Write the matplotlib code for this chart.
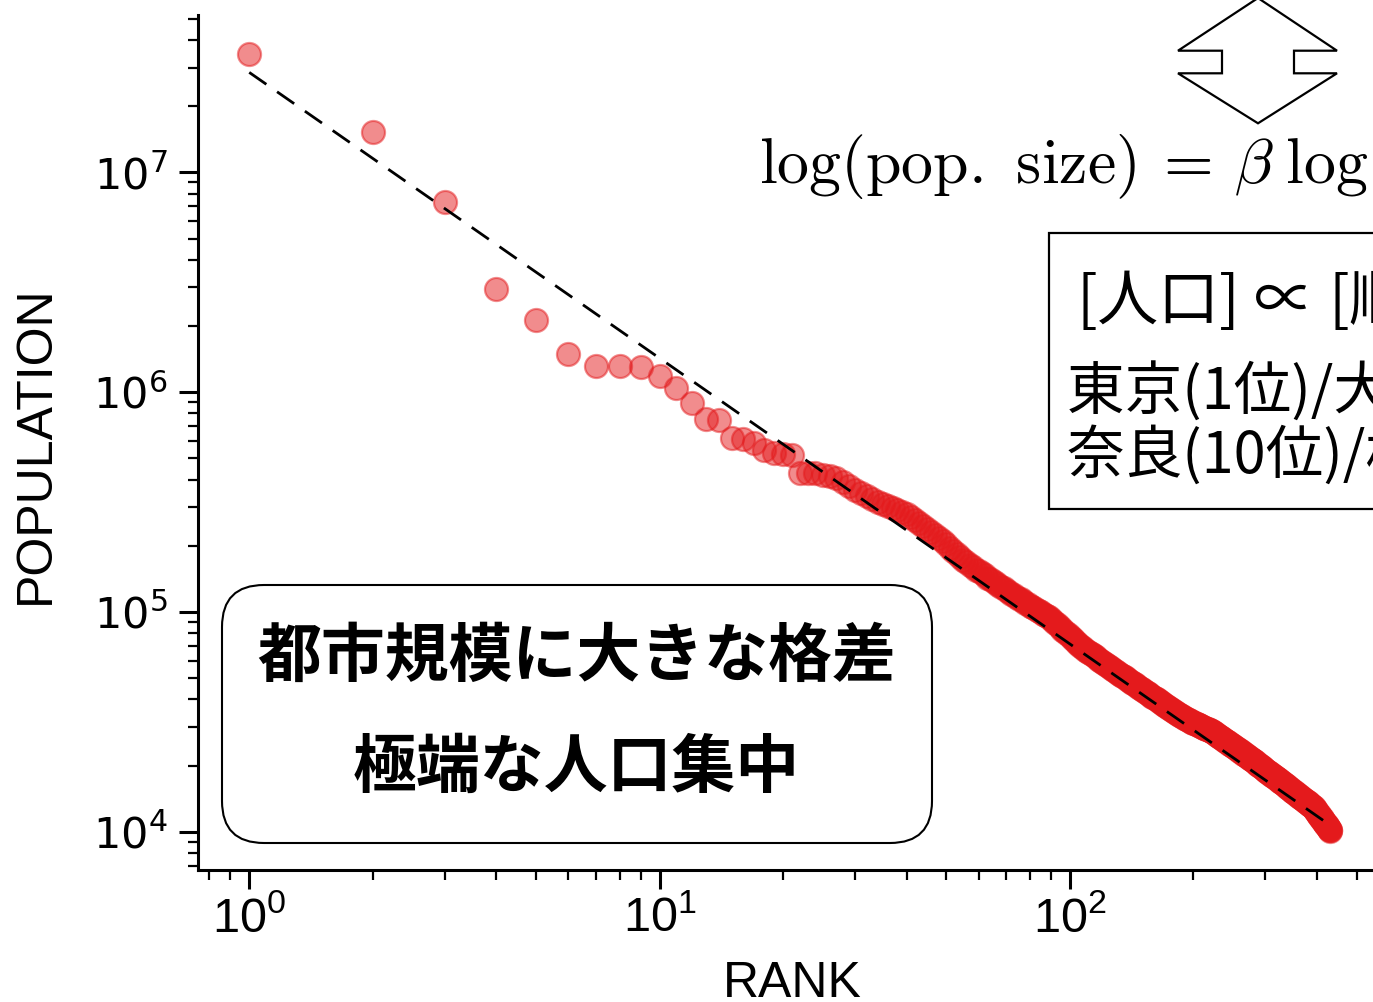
import numpy as np
import matplotlib
matplotlib.use("Agg")
import matplotlib.pyplot as plt
from matplotlib.patches import FancyBboxPatch, Rectangle, Polygon

# population by rank, in thousands (ranks 1-21 spread out, 22+ dense tail)
POP_TOP_K = [34700, 15200, 7310, 2940, 2120, 1490, 1320, 1310, 1300, 1190,
             1040, 891, 754, 748, 618, 610, 586, 545, 528, 526, 517]
POP_TAIL_K = [
    429, 431, 430, 422, 414, 407, 389, 373, 358, 346, 336, 326, 317, 309, 302, 296, 290, 285, 279, 271,
    262, 255, 247, 239, 232, 225, 218, 211, 203, 196, 189, 183, 177, 172, 168, 164, 160, 156, 153, 150,
    147, 143, 141, 138, 135, 133, 130, 128, 126, 123, 121, 119, 117, 115, 114, 112, 110, 109, 107, 105,
    104, 102, 101, 99.6, 98.2, 96.9, 95.6, 94.4, 92.8, 91.1, 89.4, 87.8, 86.2, 84.7, 83.2, 81.8, 80.3, 79, 77.6, 76.3,
    75.1, 73.8, 72.6, 71.5, 70.3, 69.2, 68.3, 67.4, 66.6, 65.8, 65.1, 64.3, 63.6, 62.8, 62.1, 61.4, 60.7, 60.1, 59.4, 58.8,
    58.1, 57.5, 56.9, 56.3, 55.7, 55.1, 54.6, 54, 53.5, 52.9, 52.4, 51.9, 51.4, 50.9, 50.4, 50, 49.5, 49, 48.6, 48.1,
    47.7, 47.3, 46.8, 46.4, 46, 45.6, 45.2, 44.8, 44.4, 44, 43.6, 43.3, 42.9, 42.6, 42.2, 41.9, 41.5, 41.2, 40.9, 40.6,
    40.3, 40, 39.6, 39.3, 39.1, 38.8, 38.5, 38.2, 37.9, 37.6, 37.4, 37.1, 36.8, 36.6, 36.3, 36.1, 35.8, 35.6, 35.3, 35.1,
    34.8, 34.6, 34.4, 34.1, 33.9, 33.7, 33.5, 33.3, 33.1, 32.9, 32.7, 32.5, 32.3, 32.2, 32, 31.8, 31.7, 31.6, 31.4, 31.3,
    31.1, 31, 30.9, 30.7, 30.6, 30.5, 30.3, 30.2, 30.1, 29.9, 29.8, 29.7, 29.6, 29.5, 29.3, 29.2, 29.1, 29, 28.9, 28.7,
    28.6, 28.5, 28.4, 28.2, 28, 27.9, 27.7, 27.5, 27.4, 27.2, 27.1, 26.9, 26.8, 26.6, 26.5, 26.3, 26.2, 26, 25.9, 25.8,
    25.6, 25.5, 25.3, 25.2, 25.1, 24.9, 24.8, 24.7, 24.5, 24.4, 24.3, 24.2, 24, 23.9, 23.8, 23.7, 23.5, 23.4, 23.3, 23.2,
    23.1, 23, 22.8, 22.7, 22.6, 22.5, 22.4, 22.3, 22.2, 22.1, 21.9, 21.8, 21.7, 21.6, 21.5, 21.4, 21.3, 21.2, 21.1, 21,
    20.9, 20.8, 20.7, 20.5, 20.4, 20.3, 20.2, 20.1, 20.1, 20, 19.9, 19.8, 19.7, 19.6, 19.5, 19.4, 19.3, 19.2, 19.1, 19,
    18.9, 18.8, 18.8, 18.7, 18.6, 18.5, 18.4, 18.3, 18.2, 18.2, 18.1, 18, 17.9, 17.8, 17.8, 17.7, 17.6, 17.5, 17.4, 17.4,
    17.3, 17.2, 17.1, 17.1, 17, 16.9, 16.8, 16.8, 16.7, 16.6, 16.5, 16.5, 16.4, 16.3, 16.3, 16.2, 16.1, 16, 16, 15.9,
    15.8, 15.8, 15.7, 15.6, 15.6, 15.5, 15.4, 15.4, 15.3, 15.2, 15.2, 15.1, 15.1, 15, 14.9, 14.9, 14.8, 14.8, 14.7, 14.6,
    14.6, 14.5, 14.5, 14.4, 14.3, 14.3, 14.2, 14.2, 14.1, 14.1, 14, 13.9, 13.9, 13.8, 13.8, 13.7, 13.7, 13.6, 13.6, 13.5,
    13.5, 13.4, 13.4, 13.3, 13.3, 13.2, 13.2, 13.1, 13.1, 13, 12.9, 12.9, 12.8, 12.7, 12.6, 12.5, 12.5, 12.4, 12.3, 12.2,
    12.1, 12.1, 12, 11.9, 11.8, 11.8, 11.7, 11.6, 11.5, 11.5, 11.4, 11.3, 11.3, 11.2, 11.1, 11.1, 11, 10.9, 10.9, 10.8,
    10.7, 10.7, 10.6, 10.5, 10.5, 10.4, 10.3, 10.3, 10.2, 10.2, 10.1,
]

# power-law fit: pop = FIT_C * rank ** FIT_BETA
FIT_C = 2.85e7
FIT_BETA = -1.30

X_TICKS = [1, 10, 100]
X_TICK_LABELS = [r"$\mathregular{10^{0}}$", r"$\mathregular{10^{1}}$", r"$\mathregular{10^{2}}$"]
Y_TICKS = [1e4, 1e5, 1e6, 1e7]

EQUATION = r"$\log(\mathrm{pop.\ size})\:=\,\beta\;\log(\mathrm{rank}) + \alpha$"
ZIPF_LINES = ["[人口] ∝ [順位]$^{\\beta}$", "東京(1位)/大阪(2位) ≈ 2", "奈良(10位)/松山(20位) ≈ 2"]
MESSAGE_LINES = ["都市規模に大きな格差", "極端な人口集中"]

RED = "#e41a1c"
JP = ["Noto Sans CJK JP", "DejaVu Sans"]
LAB = ["Liberation Sans", "DejaVu Sans"]

pop = np.array(POP_TOP_K + POP_TAIL_K) * 1000
rank = np.arange(1, len(pop) + 1)

W, H = 13.73, 10.02
fig = plt.figure(figsize=(W, H), dpi=100)
ax = fig.add_axes([198 / 1373, 132 / 1002, 1188 / 1373, 855 / 1002])

ax.scatter(rank, pop, s=275, color=RED, alpha=0.5, linewidths=1.6, zorder=2)
fit_x = np.array([rank[0], rank[-1]])
ax.plot(fit_x, FIT_C * fit_x ** FIT_BETA, color="black", lw=2,
        ls=(0, (7.5, 4.7)), zorder=3)

ax.set_xscale("log")
ax.set_yscale("log")
ax.set_xlim(0.75, 590)
ax.set_ylim(6700, 5.2e7)
ax.set_yticks(Y_TICKS)
ax.set_xticks(X_TICKS, X_TICK_LABELS, fontfamily=LAB, fontsize=35)

for s in ["top", "right"]:
    ax.spines[s].set_visible(False)
for s in ["left", "bottom"]:
    ax.spines[s].set_linewidth(2.2)

ax.tick_params(axis="both", which="major", length=14, width=2.2)
ax.tick_params(axis="both", which="minor", length=7.5, width=1.6)
ax.tick_params(axis="y", which="major", labelsize=31, pad=8)
ax.tick_params(axis="x", which="major", pad=5)

ax.set_xlabel("RANK", fontfamily=LAB, fontsize=36)
ax.set_ylabel("POPULATION", fontfamily=LAB, fontsize=36)
ax.xaxis.set_label_coords(0.5, -0.106)
ax.yaxis.set_label_coords(-0.117, 0.497)

# message box, lower left
tr = fig.dpi_scale_trans
fig.patches.append(FancyBboxPatch((2.22, 1.59), 7.10, 2.58,
                                  boxstyle="round,pad=0,rounding_size=0.42",
                                  transform=tr, facecolor="white",
                                  edgecolor="black", lw=1.5, zorder=4))
fig.text(5.77 / W, (1002 - 657) / 1002, MESSAGE_LINES[0], family=JP, fontweight="bold",
         fontsize=46, ha="center", va="center", zorder=5)
fig.text(5.76 / W, (1002 - 768) / 1002, MESSAGE_LINES[1], family=JP, fontweight="bold",
         fontsize=46, ha="center", va="center", zorder=5)

# rank-size relation in log form
fig.text(759 / 1373, (1002 - 183) / 1002, EQUATION, fontsize=46,
         math_fontfamily="cm", ha="left", va="baseline")

# outlined double arrow above the equation
arrow_px = [(1258, -2), (1178, 50.7), (1222, 50.7), (1222, 73.3), (1178, 73.3),
            (1258, 123.3), (1337, 73.3), (1294, 73.3), (1294, 50.7), (1337, 50.7)]
fig.patches.append(Polygon([(x / 100, (1002 - y) / 100) for x, y in arrow_px],
                           closed=True, transform=tr, facecolor="white",
                           edgecolor="black", lw=1.6))

# zipf box, right
fig.patches.append(Rectangle((10.49, 4.93), 5.0, 2.76, transform=tr,
                             facecolor="white", edgecolor="black", lw=1.6))
fig.text(1076 / 1373, (1002 - 299) / 1002, ZIPF_LINES[0], family=JP, fontsize=44,
         ha="left", va="center")
fig.text(1067 / 1373, (1002 - 393) / 1002, ZIPF_LINES[1], family=JP, fontsize=41.5,
         ha="left", va="center")
fig.text(1067 / 1373, (1002 - 456) / 1002, ZIPF_LINES[2], family=JP, fontsize=41.5,
         ha="left", va="center")

fig.savefig("out.png", dpi=100, facecolor="white")
